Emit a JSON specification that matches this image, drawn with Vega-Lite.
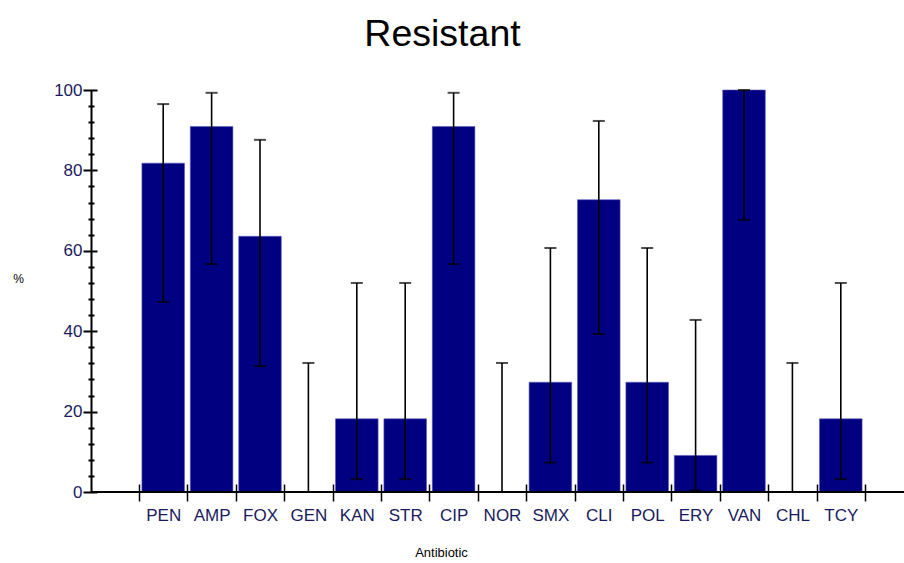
{
  "$schema": "https://vega.github.io/schema/vega-lite/v6.json",
  "autosize": "none",
  "width": 813,
  "height": 402,
  "padding": {"left": 91, "top": 90, "right": 0, "bottom": 71},
  "background": "white",
  "title": {"text": "Resistant", "font": "Liberation Sans", "fontSize": 37.5, "fontWeight": "normal", "color": "black", "anchor": "middle", "dx": -55, "baseline": "alphabetic", "offset": -2},
  "data": {"values": [
    {"ab": "PEN", "v": 81.8, "lo": 47.3, "hi": 96.5},
    {"ab": "AMP", "v": 90.9, "lo": 56.7, "hi": 99.3},
    {"ab": "FOX", "v": 63.6, "lo": 31.3, "hi": 87.6},
    {"ab": "GEN", "v": 0, "lo": 0, "hi": 32.1},
    {"ab": "KAN", "v": 18.2, "lo": 3.2, "hi": 52.0},
    {"ab": "STR", "v": 18.2, "lo": 3.2, "hi": 52.0},
    {"ab": "CIP", "v": 90.9, "lo": 56.7, "hi": 99.3},
    {"ab": "NOR", "v": 0, "lo": 0, "hi": 32.1},
    {"ab": "SMX", "v": 27.3, "lo": 7.3, "hi": 60.7},
    {"ab": "CLI", "v": 72.7, "lo": 39.3, "hi": 92.3},
    {"ab": "POL", "v": 27.3, "lo": 7.3, "hi": 60.7},
    {"ab": "ERY", "v": 9.1, "lo": 0.4, "hi": 42.8},
    {"ab": "VAN", "v": 100, "lo": 67.7, "hi": 100},
    {"ab": "CHL", "v": 0, "lo": 0, "hi": 32.1},
    {"ab": "TCY", "v": 18.2, "lo": 3.2, "hi": 52.0}
  ]},
  "layer": [
    {
      "mark": {"type": "bar", "color": "#000080", "stroke": "#5a5ab8", "strokeWidth": 0.6, "width": {"band": 0.88}},
      "encoding": {
        "x": {"field": "ab", "type": "nominal", "sort": null,
          "scale": {"range": [48, 774], "paddingInner": 0, "paddingOuter": 0},
          "axis": {"title": "Antibiotic", "orient": "bottom", "offset": -8, "domain": false, "tickBand": "extent", "tickSize": 17, "tickColor": "black", "tickWidth": 1.5, "labelAngle": 0, "labelFont": "Liberation Sans", "labelFontSize": 17, "labelColor": "#1a1a5e", "labelPadding": 6, "titleFont": "Liberation Sans", "titleFontSize": 13, "titleFontWeight": "normal", "titleColor": "black", "titleX": 350, "titlePadding": 23}},
        "y": {"field": "v", "type": "quantitative",
          "scale": {"domain": [0, 100], "nice": false, "zero": true},
          "axis": {"orient": "left", "title": "%", "domain": true, "domainColor": "black", "domainWidth": 2, "ticks": false, "grid": false, "values": [0, 20, 40, 60, 80, 100], "labelPadding": 9, "labelFont": "Liberation Sans", "labelFontSize": 17, "labelColor": "#1a1a5e", "titleAngle": 0, "titleX": -73, "titleY": 188, "titleAlign": "center", "titleBaseline": "middle", "titleFont": "Liberation Sans", "titleFontSize": 12, "titleFontWeight": "normal", "titleColor": "black"}}
      }
    },
    {
      "mark": {"type": "rule", "color": "black", "strokeWidth": 1.6},
      "encoding": {
        "x": {"field": "ab", "type": "nominal", "sort": null,
          "scale": {"range": [48, 774], "paddingInner": 0, "paddingOuter": 0},
          "axis": {"title": "Antibiotic", "orient": "bottom", "offset": -8, "domain": false, "tickBand": "extent", "tickSize": 17, "tickColor": "black", "tickWidth": 1.5, "labelAngle": 0, "labelFont": "Liberation Sans", "labelFontSize": 17, "labelColor": "#1a1a5e", "labelPadding": 6, "titleFont": "Liberation Sans", "titleFontSize": 13, "titleFontWeight": "normal", "titleColor": "black", "titleX": 350, "titlePadding": 23}},
        "y": {"field": "lo", "type": "quantitative", "scale": {"domain": [0, 100], "nice": false},
          "axis": {"orient": "left", "offset": -6, "title": null, "domain": false, "labels": false, "grid": false, "ticks": true, "tickSize": 14, "tickWidth": 2, "tickColor": "black", "values": [0, 20, 40, 60, 80, 100]}},
        "y2": {"field": "hi"}
      }
    },
    {
      "mark": {"type": "tick", "color": "black", "size": 12, "thickness": 2, "orient": "horizontal"},
      "encoding": {
        "x": {"field": "ab", "type": "nominal", "sort": null,
          "scale": {"range": [48, 774], "paddingInner": 0, "paddingOuter": 0},
          "axis": {"title": "Antibiotic", "orient": "bottom", "offset": -8, "domain": false, "tickBand": "extent", "tickSize": 17, "tickColor": "black", "tickWidth": 1.5, "labelAngle": 0, "labelFont": "Liberation Sans", "labelFontSize": 17, "labelColor": "#1a1a5e", "labelPadding": 6, "titleFont": "Liberation Sans", "titleFontSize": 13, "titleFontWeight": "normal", "titleColor": "black", "titleX": 350, "titlePadding": 23}},
        "y": {"field": "hi", "type": "quantitative", "scale": {"domain": [0, 100], "nice": false},
          "axis": {"orient": "left", "offset": -3, "title": null, "domain": false, "labels": false, "grid": false, "ticks": true, "tickSize": 6, "tickWidth": 2, "tickColor": "black", "values": [4, 8, 12, 16, 24, 28, 32, 36, 44, 48, 52, 56, 64, 68, 72, 76, 84, 88, 92, 96]}}
      }
    },
    {
      "mark": {"type": "tick", "color": "black", "size": 12, "thickness": 2, "orient": "horizontal"},
      "encoding": {
        "x": {"field": "ab", "type": "nominal", "sort": null,
          "scale": {"range": [48, 774], "paddingInner": 0, "paddingOuter": 0},
          "axis": {"title": "Antibiotic", "orient": "bottom", "offset": -8, "domain": false, "tickBand": "extent", "tickSize": 17, "tickColor": "black", "tickWidth": 1.5, "labelAngle": 0, "labelFont": "Liberation Sans", "labelFontSize": 17, "labelColor": "#1a1a5e", "labelPadding": 6, "titleFont": "Liberation Sans", "titleFontSize": 13, "titleFontWeight": "normal", "titleColor": "black", "titleX": 350, "titlePadding": 23}},
        "y": {"field": "lo", "type": "quantitative", "scale": {"domain": [0, 100], "nice": false}, "axis": null}
      }
    },
    {
      "data": {"values": [{"base": 0}]},
      "mark": {"type": "rule", "color": "black", "strokeWidth": 2},
      "encoding": {
        "y": {"field": "base", "type": "quantitative", "scale": {"domain": [0, 100], "nice": false}, "axis": null}
      }
    }
  ],
  "resolve": {"axis": {"y": "independent"}},
  "config": {"view": {"stroke": null}}
}
